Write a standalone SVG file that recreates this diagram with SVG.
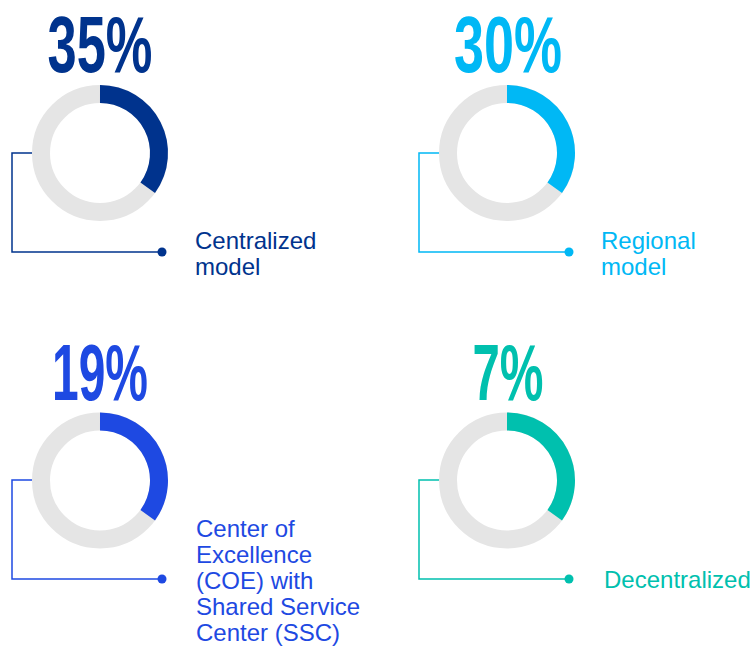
<svg xmlns="http://www.w3.org/2000/svg" width="751" height="646" viewBox="0 0 751 646">
<style>
.ring{fill:none;stroke:#e5e5e5;stroke-width:18}
.arc{fill:none;stroke-width:18}
.pct{font-family:"Liberation Sans",Arial,sans-serif;font-weight:bold;font-size:80px;text-anchor:middle}
.lbl{font-family:"Liberation Sans",Arial,sans-serif;font-size:24px}
.conn{fill:none;stroke-width:1.5}
</style>
<rect width="751" height="646" fill="#ffffff"/>
<g id="connectors">
<path class="conn" stroke="#00338d" d="M32 153H12V252H162"/>
<circle cx="162" cy="252" r="4.5" fill="#00338d"/>
<path class="conn" stroke="#00b8f5" d="M440 153H419V252H569"/>
<circle cx="569" cy="252" r="4.5" fill="#00b8f5"/>
<path class="conn" stroke="#1e49e2" d="M32 480H12V579H162"/>
<circle cx="162" cy="579" r="4.5" fill="#1e49e2"/>
<path class="conn" stroke="#00c0ae" d="M440 480H419V579H569"/>
<circle cx="569" cy="579" r="4.5" fill="#00c0ae"/>
</g>
<g id="centralized">
<text class="pct" x="100" y="72" fill="#00338d" textLength="105" lengthAdjust="spacingAndGlyphs">35%</text>
<circle class="ring" cx="100" cy="153" r="59"/>
<path class="arc" stroke="#00338d" d="M100 94A59 59 0 0 1 147.73 187.68"/>
<text class="lbl" fill="#00338d" x="195" y="249">Centralized<tspan x="195" y="275">model</tspan></text>
</g>
<g id="regional">
<text class="pct" x="508" y="72" fill="#00b8f5" textLength="108" lengthAdjust="spacingAndGlyphs">30%</text>
<circle class="ring" cx="507" cy="153" r="59"/>
<path class="arc" stroke="#00b8f5" d="M507 94A59 59 0 0 1 554.73 187.68"/>
<text class="lbl" fill="#00b8f5" x="601" y="249">Regional<tspan x="601" y="275">model</tspan></text>
</g>
<g id="coe">
<text class="pct" x="100" y="400" fill="#1e49e2" textLength="96" lengthAdjust="spacingAndGlyphs">19%</text>
<circle class="ring" cx="100" cy="480.5" r="59"/>
<path class="arc" stroke="#1e49e2" d="M100 421.5A59 59 0 0 1 147.73 515.18"/>
<text class="lbl" fill="#1e49e2" x="196" y="537">Center of<tspan x="196" y="563">Excellence</tspan><tspan x="196" y="589">(COE) with</tspan><tspan x="196" y="615">Shared Service</tspan><tspan x="196" y="641">Center (SSC)</tspan></text>
</g>
<g id="decentralized">
<text class="pct" x="508" y="400" fill="#00c0ae" textLength="71" lengthAdjust="spacingAndGlyphs">7%</text>
<circle class="ring" cx="507" cy="480.5" r="59"/>
<path class="arc" stroke="#00c0ae" d="M507 421.5A59 59 0 0 1 554.73 515.18"/>
<text class="lbl" fill="#00c0ae" x="604" y="588">Decentralized</text>
</g>
</svg>
